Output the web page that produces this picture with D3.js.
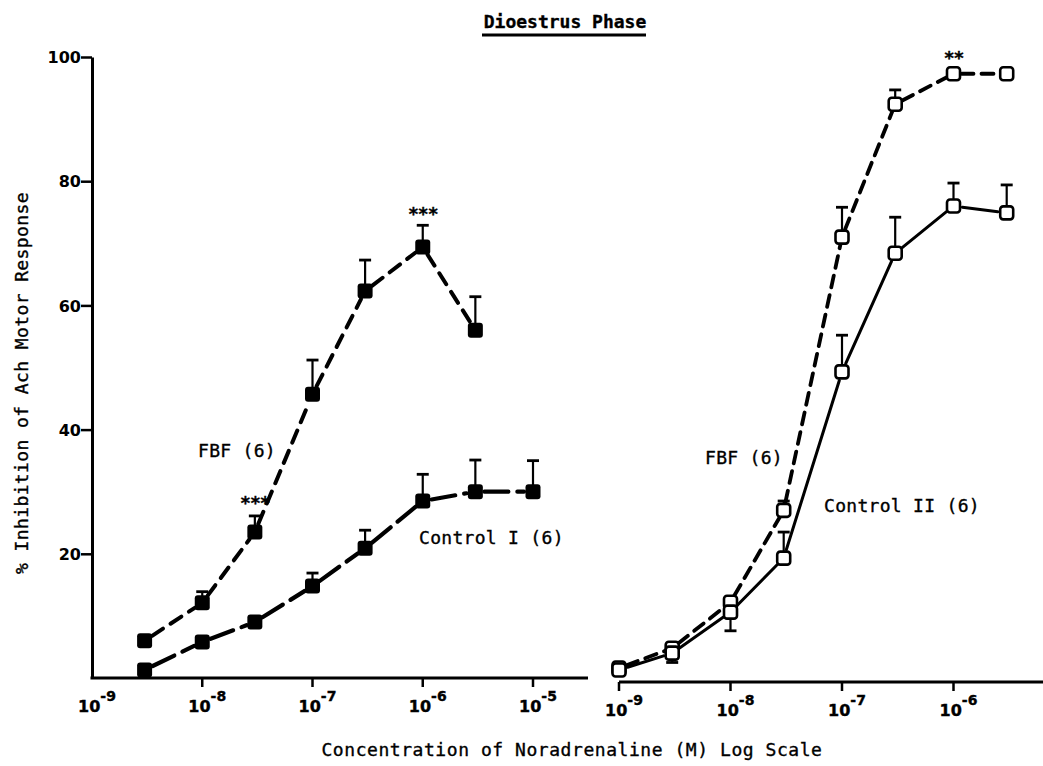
<!DOCTYPE html>
<html>
<head>
<meta charset="utf-8">
<script src="https://cdn.jsdelivr.net/npm/d3@7"></script>
<style>
  html, body { margin: 0; padding: 0; background: #fff; }
  svg { display: block; }
  .lbl { font-family: "DejaVu Sans Mono", monospace; font-size: 18px; fill: #000; stroke: #000; stroke-width: 0.35px; }
  .tick-num { font-family: "DejaVu Sans", sans-serif; font-size: 16px; font-weight: bold; fill: #000; }
</style>
</head>
<body>
<svg id="chart" width="1043" height="766"></svg>
<script>
// Concentrations of noradrenaline (M)
const concLeft  = [3e-9, 1e-8, 3e-8, 1e-7, 3e-7, 1e-6, 3e-6, 1e-5];
const concRight = [1e-9, 3e-9, 1e-8, 3e-8, 1e-7, 3e-7, 1e-6, 3e-6];

// Left panel: FBF (filled squares, short dashes) and Control I (filled squares, long dashes)
const fbfLeft      = [6.0, 12.1, 23.5, 45.7, 62.3, 69.4, 56.0];
const fbfLeftErr   = [0, 1.8, 2.6, 5.5, 5.0, 3.5, 5.4];
const ctrl1        = [1.3, 5.8, 9.0, 14.8, 20.9, 28.5, 30.0, 30.0];
const ctrl1Err     = [0, 0, 0, 2.1, 2.9, 4.3, 5.1, 5.0];

// Right panel: FBF (open squares, short dashes) and Control II (open squares, solid)
// negative error values are drawn below the mean
const fbfRight     = [1.6, 4.8, 12.2, 27.0, 71.0, 92.4, 97.3, 97.3];
const fbfRightErr  = [0, 0.8, 0, 1.5, 4.8, 2.3, 0, 0];
const ctrl2        = [1.3, 4.0, 10.6, 19.3, 49.3, 68.4, 76.0, 74.9];
const ctrl2Err     = [0, -1.5, -3.0, 4.2, 5.9, 5.8, 3.7, 4.5];

const yTicks = [20, 40, 60, 80, 100];
const xTicksLeft  = [-9, -8, -7, -6, -5];
const xTicksRight = [-9, -8, -7, -6];

const svg = d3.select("#chart");

const y  = d3.scaleLinear().domain([0, 100]).range([678, 57]);
const xL = d3.scaleLog().domain([1e-9, 1e-5]).range([92, 533]);
const xR = d3.scaleLog().domain([1e-9, 1e-5]).range([619, 1065]);

// Title
svg.append("text").attr("class", "lbl")
  .attr("x", 565).attr("y", 28).attr("text-anchor", "middle")
  .attr("font-weight", "bold").attr("stroke-width", 0)
  .text("Dioestrus Phase");
svg.append("line").attr("x1", 482).attr("x2", 646).attr("y1", 35).attr("y2", 35)
  .attr("stroke", "#000").attr("stroke-width", 2.8);

// Y axis
const yAxis = svg.append("g").attr("transform", `translate(${xL.range()[0]},0)`)
  .call(d3.axisLeft(y).tickValues(yTicks).tickSize(11).tickSizeOuter(0).tickFormat(""));
yAxis.select(".domain").attr("stroke-width", 3);
yAxis.selectAll(".tick line").attr("stroke-width", 2.5);
yAxis.selectAll(".tick").append("text").attr("class", "tick-num")
  .attr("x", -11).attr("dy", "0.36em").attr("text-anchor", "end")
  .attr("fill", "#000").text(d => d);

// Y axis title
svg.append("text").attr("class", "lbl")
  .attr("transform", "translate(28,383) rotate(-90)")
  .attr("text-anchor", "middle").attr("letter-spacing", 0.4)
  .text("% Inhibition of Ach Motor Response");

// X axes
function xAxis(scale, ticks, yPos, x0, x1, withFirstTick) {
  const g = svg.append("g");
  g.append("line").attr("x1", x0).attr("x2", x1).attr("y1", yPos).attr("y2", yPos)
    .attr("stroke", "#000").attr("stroke-width", 3);
  ticks.forEach((p, i) => {
    const xv = scale(Math.pow(10, p));
    if (i > 0 || withFirstTick) {
      g.append("line").attr("x1", xv).attr("x2", xv).attr("y1", yPos).attr("y2", yPos + 9)
        .attr("stroke", "#000").attr("stroke-width", 2.5);
    }
    const t = g.append("text").attr("class", "tick-num")
      .attr("x", xv + 5).attr("y", yPos + 34).attr("text-anchor", "middle").attr("font-weight", "normal")
      .attr("font-size", 18).attr("stroke", "#000").attr("stroke-width", 0.4);
    t.append("tspan").text("10");
    t.append("tspan").attr("dy", -11).attr("font-size", 14).text("-" + Math.abs(p));
  });
}
xAxis(xL, xTicksLeft, y(0), xL.range()[0] - 1.5, 588, false);
xAxis(xR, xTicksRight, y(0) + 4, 619, 1043, true);

// X axis title
svg.append("text").attr("class", "lbl")
  .attr("x", 572).attr("y", 756).attr("text-anchor", "middle").attr("letter-spacing", 0.55)
  .text("Concentration of Noradrenaline (M) Log Scale");

// Series drawing
function drawSeries(xs, conc, vals, errs, opts) {
  const pts = vals.map((v, i) => [xs(conc[i]), y(v)]);
  const g = svg.append("g");
  // connecting segments, trimmed near markers
  const gap = opts.gap;
  for (let i = 0; i < pts.length - 1; i++) {
    const [ax, ay] = pts[i], [bx, by] = pts[i + 1];
    const dx = bx - ax, dy = by - ay, L = Math.hypot(dx, dy);
    if (L <= 2 * gap) continue;
    const ux = dx / L, uy = dy / L;
    g.append("line")
      .attr("x1", ax + ux * gap).attr("y1", ay + uy * gap)
      .attr("x2", bx - ux * gap).attr("y2", by - uy * gap)
      .attr("stroke", "#000").attr("stroke-width", opts.lineWidth)
      .attr("stroke-dasharray", opts.dash || null)
      .attr("stroke-linecap", "round");
  }
  // error bars
  pts.forEach(([px, py], i) => {
    const e = errs[i];
    if (!e) return;
    const ye = y(vals[i] + e);
    g.append("line").attr("x1", px).attr("x2", px).attr("y1", py).attr("y2", ye)
      .attr("stroke", "#000").attr("stroke-width", 2.2);
    g.append("line").attr("x1", px - 6).attr("x2", px + 6).attr("y1", ye).attr("y2", ye)
      .attr("stroke", "#000").attr("stroke-width", 2.8);
  });
  // markers
  const s = opts.size;
  g.selectAll("rect.m").data(pts).join("rect").attr("class", "m")
    .attr("x", d => d[0] - s / 2).attr("y", d => d[1] - s / 2)
    .attr("width", s).attr("height", s).attr("rx", 3)
    .attr("fill", opts.filled ? "#000" : "#fff")
    .attr("stroke", "#000").attr("stroke-width", opts.filled ? 0 : 2.6);
}

drawSeries(xL, concLeft, fbfLeft, fbfLeftErr, { filled: true, size: 15, dash: "13,9", lineWidth: 4, gap: 9 });
drawSeries(xL, concLeft, ctrl1, ctrl1Err, { filled: true, size: 15, dash: "24,9", lineWidth: 4.2, gap: 9 });
drawSeries(xR, concRight, fbfRight, fbfRightErr, { filled: false, size: 13, dash: "12,8", lineWidth: 3.8, gap: 8 });
drawSeries(xR, concRight, ctrl2, ctrl2Err, { filled: false, size: 13, dash: null, lineWidth: 3, gap: 9 });

// Significance markers, placed just above the error bar caps
function stars(xs, c, v, txt) {
  svg.append("text").attr("class", "lbl").attr("font-weight", "bold")
    .attr("x", xs(c)).attr("y", y(v)).attr("text-anchor", "middle")
    .attr("font-size", 20).attr("letter-spacing", -1)
    .text(txt);
}
stars(xL, 3e-8, 27.2, "***");
stars(xL, 1e-6, 73.8, "***");
stars(xR, 1e-6, 98.8, "**");

// Curve labels
function label(x, yy, txt) {
  svg.append("text").attr("class", "lbl").attr("x", x).attr("y", yy)
    .attr("letter-spacing", 0.3).text(txt);
}
label(198, 457, "FBF (6)");
label(419, 544, "Control I (6)");
label(705, 464, "FBF (6)");
label(824, 512, "Control II (6)");
</script>
</body>
</html>
